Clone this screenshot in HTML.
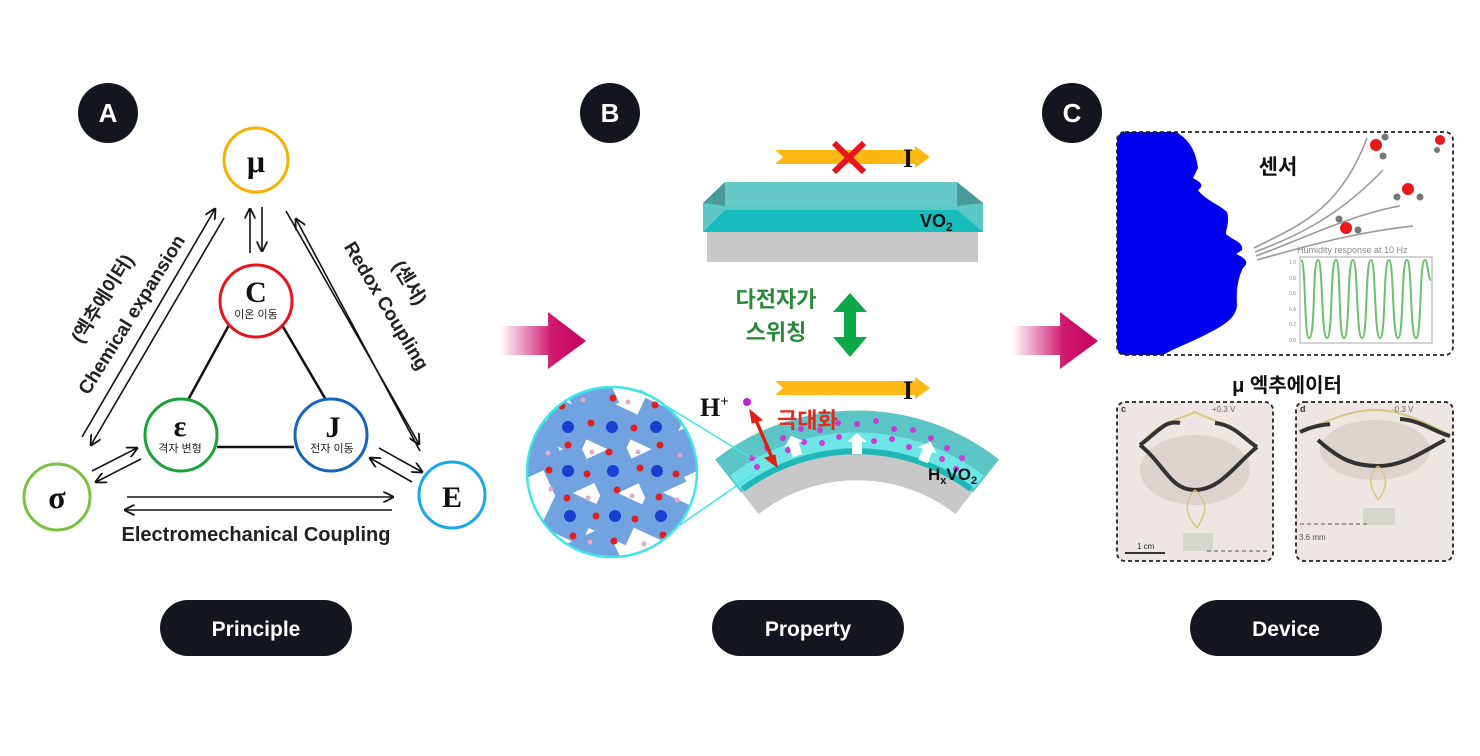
<!DOCTYPE html>
<html><head><meta charset="utf-8"><style>
html,body{margin:0;padding:0;background:#fff;width:1480px;height:756px;overflow:hidden}
svg{display:block}
text{font-family:"Liberation Sans","Noto Sans CJK KR",sans-serif}
.serif{font-family:"Liberation Serif","Noto Serif CJK SC",serif;font-weight:bold}
</style></head><body>
<svg width="1480" height="756" viewBox="0 0 1480 756" xmlns="http://www.w3.org/2000/svg">
<defs>
<linearGradient id="mg" x1="0" x2="1" y1="0" y2="0">
<stop offset="0" stop-color="#c8005e" stop-opacity="0"/><stop offset="0.6" stop-color="#c8005e" stop-opacity="0.9"/><stop offset="1" stop-color="#c8005e"/></linearGradient>
<marker id="ah" viewBox="0 0 10 10" refX="9" refY="5" markerWidth="7" markerHeight="7" orient="auto-start-reverse"><path d="M0,0 L10,5 L0,10" fill="none" stroke="#111" stroke-width="1.6"/></marker>
<clipPath id="cc"><circle cx="612" cy="472" r="85"/></clipPath>
<clipPath id="ph1"><rect x="1117" y="402" width="156" height="159" rx="8"/></clipPath>
<clipPath id="ph2"><rect x="1296" y="402" width="157" height="159" rx="8"/></clipPath>
<clipPath id="sb"><rect x="1117" y="132" width="336" height="223" rx="8"/></clipPath>
<path id="wa" d="M-5,8 V-4 H-10 L0,-13 L10,-4 H5 V8 Z" fill="#fff"/>
</defs>

<!-- badges -->
<circle cx="108" cy="113" r="30" fill="#14161f"/><text x="108" y="122" font-size="26" font-weight="bold" fill="#fff" text-anchor="middle">A</text>
<circle cx="610" cy="113" r="30" fill="#14161f"/><text x="610" y="122" font-size="26" font-weight="bold" fill="#fff" text-anchor="middle">B</text>
<circle cx="1072" cy="113" r="30" fill="#14161f"/><text x="1072" y="122" font-size="26" font-weight="bold" fill="#fff" text-anchor="middle">C</text>

<!-- pills -->
<rect x="160" y="600" width="192" height="56" rx="28" fill="#14161f"/><text x="256" y="636" font-size="21" font-weight="bold" fill="#fff" text-anchor="middle">Principle</text>
<rect x="712" y="600" width="192" height="56" rx="28" fill="#14161f"/><text x="808" y="636" font-size="21" font-weight="bold" fill="#fff" text-anchor="middle">Property</text>
<rect x="1190" y="600" width="192" height="56" rx="28" fill="#14161f"/><text x="1286" y="636" font-size="21" font-weight="bold" fill="#fff" text-anchor="middle">Device</text>

<!-- magenta arrows -->
<path d="M500,326 H548 V312 L586,341 L548,369 V355 H500 Z" fill="url(#mg)"/>
<path d="M1012,326 H1060 V312 L1098,341 L1060,369 V355 H1012 Z" fill="url(#mg)"/>

<!-- Panel A -->
<g stroke="#111" stroke-width="2.5">
<line x1="229" y1="325" x2="188" y2="400"/><line x1="282" y1="325" x2="326" y2="400"/><line x1="217" y1="447" x2="294" y2="447"/>
</g>
<g stroke="#111" stroke-width="1.6" fill="none" marker-end="url(#ah)">
<line x1="250" y1="253" x2="250" y2="209"/><line x1="262" y1="207" x2="262" y2="251"/>
<line x1="82" y1="437" x2="215" y2="209"/><line x1="224" y1="218" x2="91" y2="445"/>
<line x1="286" y1="211" x2="419" y2="444"/><line x1="420" y1="451" x2="296" y2="219"/>
<line x1="92" y1="471" x2="137" y2="448"/><line x1="141" y1="459" x2="96" y2="482"/>
<line x1="379" y1="448" x2="422" y2="472"/><line x1="412" y1="482" x2="370" y2="458"/>
<line x1="127" y1="497" x2="393" y2="497"/><line x1="392" y1="510" x2="125" y2="510"/>
</g>
<circle cx="256" cy="160" r="32" fill="#fff" stroke="#f5b000" stroke-width="3"/>
<text x="256" y="172" class="serif" font-size="32" text-anchor="middle" fill="#111">μ</text>
<circle cx="256" cy="301" r="36" fill="#fff" stroke="#e8141c" stroke-width="3"/>
<text x="256" y="302" class="serif" font-size="30" text-anchor="middle" fill="#111">C</text>
<text x="256" y="318" font-size="11" text-anchor="middle" fill="#222">이온 이동</text>
<circle cx="181" cy="435" r="36" fill="#fff" stroke="#1aa33a" stroke-width="3"/>
<text x="180" y="436" class="serif" font-size="30" text-anchor="middle" fill="#111">ε</text>
<text x="180" y="452" font-size="11" text-anchor="middle" fill="#222">격자 변형</text>
<circle cx="331" cy="435" r="36" fill="#fff" stroke="#1565c0" stroke-width="3"/>
<text x="333" y="437" class="serif" font-size="30" text-anchor="middle" fill="#111">J</text>
<text x="332" y="452" font-size="11" text-anchor="middle" fill="#222">전자 이동</text>
<circle cx="57" cy="497" r="33" fill="#fff" stroke="#7dc142" stroke-width="3"/>
<text x="57" y="508" class="serif" font-size="32" text-anchor="middle" fill="#111">σ</text>
<circle cx="452" cy="495" r="33" fill="#fff" stroke="#1aa8e8" stroke-width="3"/>
<text x="452" y="507" class="serif" font-size="30" text-anchor="middle" fill="#111">E</text>
<text transform="translate(108,302) rotate(-58)" font-size="19" font-weight="bold" fill="#222" text-anchor="middle">(엑추에이터)</text>
<text transform="translate(137,318) rotate(-58)" font-size="19" font-weight="bold" fill="#222" text-anchor="middle">Chemical expansion</text>
<text transform="translate(381,309) rotate(59)" font-size="19" font-weight="bold" fill="#222" text-anchor="middle">Redox Coupling</text>
<text transform="translate(404,286) rotate(59)" font-size="19" font-weight="bold" fill="#222" text-anchor="middle">(센서)</text>
<text x="256" y="541" font-size="20" font-weight="bold" text-anchor="middle" fill="#222">Electromechanical Coupling</text>

<!-- Panel B top -->
<path d="M775,150 H915 V146 L930,157 L915,168 V164 H775 L783,157 Z" fill="#fdb813"/>
<text x="903" y="167" class="serif" font-size="26" fill="#111">I</text>
<g stroke="#e8141c" stroke-width="6"><line x1="834" y1="143" x2="864" y2="172"/><line x1="864" y1="143" x2="834" y2="172"/></g>
<rect x="707" y="232" width="271" height="30" fill="#c8c8c8"/>
<polygon points="703,203 725,182 957,182 983,203 983,232 703,232" fill="#5fc6c6"/>
<polygon points="703,232 725,210 957,210 983,232" fill="#17bcbc"/>
<rect x="725" y="182" width="232" height="24" fill="#66c9c8"/>
<polygon points="703,203 725,182 725,206" fill="#4a9a9a"/>
<polygon points="957,182 983,203 957,206" fill="#4a9a9a"/>
<text x="920" y="227" font-size="18" font-weight="bold" fill="#111">VO<tspan font-size="12" dy="4">2</tspan></text>

<text x="776" y="307" font-size="22" font-weight="bold" fill="#2a8a3a" text-anchor="middle">다전자가</text>
<text x="776" y="340" font-size="22" font-weight="bold" fill="#2a8a3a" text-anchor="middle">스위칭</text>
<path d="M850,293 L867,312 H856 V337 H867 L850,357 L833,337 H844 V312 H833 Z" fill="#0aaa48"/>

<!-- bottom arrow -->
<path d="M775,381 H915 V377 L930,388 L915,399 V395 H775 L783,388 Z" fill="#fdb813"/>
<text x="903" y="399" class="serif" font-size="26" fill="#111">I</text>

<!-- curved slab: center (857,640) -->
<path d="M750,503 A174,174 0 0 1 964,503" fill="none" stroke="#c8c8c8" stroke-width="28"/>
<path d="M728,476 A209,209 0 0 1 986,476" fill="none" stroke="#5cc6c6" stroke-width="42"/>
<path d="M735,482 A200,200 0 0 1 979,482" fill="none" stroke="#6fe6e6" stroke-width="16"/>
<path d="M743,489 A191,191 0 0 1 971,489" fill="none" stroke="#1fb8b8" stroke-width="6"/>
<g fill="#c83cd8">
<circle cx="752" cy="458" r="3"/><circle cx="757" cy="467" r="3"/><circle cx="767" cy="448" r="3"/><circle cx="772" cy="459" r="3"/><circle cx="783" cy="438" r="3"/><circle cx="788" cy="450" r="3"/><circle cx="801" cy="429" r="3"/><circle cx="804" cy="442" r="3"/><circle cx="820" cy="430" r="3"/><circle cx="822" cy="443" r="3"/><circle cx="838" cy="423" r="3"/><circle cx="839" cy="437" r="3"/><circle cx="857" cy="424" r="3"/><circle cx="876" cy="421" r="3"/><circle cx="874" cy="441" r="3"/><circle cx="894" cy="429" r="3"/><circle cx="892" cy="439" r="3"/><circle cx="913" cy="430" r="3"/><circle cx="909" cy="447" r="3"/><circle cx="931" cy="438" r="3"/><circle cx="926" cy="449" r="3"/><circle cx="947" cy="448" r="3"/><circle cx="942" cy="459" r="3"/><circle cx="962" cy="458" r="3"/><circle cx="956" cy="469" r="3"/>
</g>
<use href="#wa" transform="translate(795,448) rotate(-18)"/>
<use href="#wa" transform="translate(857,446)"/>
<use href="#wa" transform="translate(926,454) rotate(20)"/>
<text x="928" y="480" font-size="17" font-weight="bold" fill="#111">H<tspan font-size="11" dy="4">x</tspan><tspan dy="-4">VO</tspan><tspan font-size="11" dy="4">2</tspan></text>
<text x="700" y="416" class="serif" font-size="26" fill="#111">H<tspan font-size="15" dy="-10">+</tspan></text>
<circle cx="747" cy="402" r="4" fill="#c020d0"/>
<g stroke="#e02010" stroke-width="3.5" fill="#e02010"><line x1="755" y1="418" x2="773" y2="460"/><path d="M750,410 L762,420 L752,423 Z" stroke-width="1"/><path d="M777,467 L765,458 L775,455 Z" stroke-width="1"/></g>
<text x="777" y="428" font-size="22" font-weight="bold" fill="#e8281c">극대화</text>
<circle cx="755" cy="465" r="9" fill="none" stroke="#7fe9ea" stroke-dasharray="2 2"/>
<line x1="640" y1="390" x2="748" y2="456" stroke="#3fe6e6" stroke-width="1.5"/>
<line x1="680" y1="525" x2="752" y2="475" stroke="#3fe6e6" stroke-width="1.5"/>

<!-- lattice circle -->
<g clip-path="url(#cc)">
<rect x="527" y="387" width="170" height="170" fill="#fff"/>
<g fill="#6a9fe0" opacity="0.95">
<g transform="translate(568,427) rotate(25)"><rect x="-22" y="-22" width="44" height="44"/></g>
<g transform="translate(612,427) rotate(25)"><rect x="-22" y="-22" width="44" height="44"/></g>
<g transform="translate(656,427) rotate(25)"><rect x="-22" y="-22" width="44" height="44"/></g>
<g transform="translate(568,471) rotate(-25)"><rect x="-22" y="-22" width="44" height="44"/></g>
<g transform="translate(613,471) rotate(-25)"><rect x="-22" y="-22" width="44" height="44"/></g>
<g transform="translate(657,471) rotate(-25)"><rect x="-22" y="-22" width="44" height="44"/></g>
<g transform="translate(570,516) rotate(25)"><rect x="-22" y="-22" width="44" height="44"/></g>
<g transform="translate(615,516) rotate(25)"><rect x="-22" y="-22" width="44" height="44"/></g>
<g transform="translate(661,516) rotate(25)"><rect x="-22" y="-22" width="44" height="44"/></g>
<g transform="translate(590,392) rotate(-25)"><rect x="-22" y="-22" width="44" height="44"/></g>
<g transform="translate(535,450) rotate(-25)"><rect x="-22" y="-22" width="44" height="44"/></g>
<g transform="translate(690,450) rotate(-25)"><rect x="-22" y="-22" width="44" height="44"/></g>
<g transform="translate(595,555) rotate(-25)"><rect x="-22" y="-22" width="44" height="44"/></g>
</g>
<g fill="#1a3ed0"><circle cx="568" cy="427" r="6"/><circle cx="612" cy="427" r="6"/><circle cx="656" cy="427" r="6"/><circle cx="568" cy="471" r="6"/><circle cx="613" cy="471" r="6"/><circle cx="657" cy="471" r="6"/><circle cx="570" cy="516" r="6"/><circle cx="615" cy="516" r="6"/><circle cx="661" cy="516" r="6"/></g>
<g fill="#e02020"><circle cx="562" cy="406" r="3.5"/><circle cx="613" cy="398" r="3.5"/><circle cx="655" cy="405" r="3.5"/><circle cx="591" cy="423" r="3.5"/><circle cx="634" cy="428" r="3.5"/><circle cx="568" cy="445" r="3.5"/><circle cx="609" cy="452" r="3.5"/><circle cx="660" cy="445" r="3.5"/><circle cx="549" cy="470" r="3.5"/><circle cx="587" cy="474" r="3.5"/><circle cx="640" cy="468" r="3.5"/><circle cx="676" cy="474" r="3.5"/><circle cx="567" cy="498" r="3.5"/><circle cx="617" cy="490" r="3.5"/><circle cx="659" cy="497" r="3.5"/><circle cx="596" cy="516" r="3.5"/><circle cx="635" cy="519" r="3.5"/><circle cx="573" cy="536" r="3.5"/><circle cx="614" cy="541" r="3.5"/><circle cx="663" cy="535" r="3.5"/></g>
<g fill="#e8a8c8"><circle cx="583" cy="400" r="2.5"/><circle cx="628" cy="402" r="2.5"/><circle cx="548" cy="453" r="2.5"/><circle cx="592" cy="452" r="2.5"/><circle cx="638" cy="452" r="2.5"/><circle cx="680" cy="455" r="2.5"/><circle cx="588" cy="498" r="2.5"/><circle cx="632" cy="496" r="2.5"/><circle cx="677" cy="500" r="2.5"/><circle cx="551" cy="489" r="2.5"/><circle cx="590" cy="542" r="2.5"/><circle cx="644" cy="544" r="2.5"/></g>
</g>
<circle cx="612" cy="472" r="85" fill="none" stroke="#3fe6e6" stroke-width="2.5"/>

<!-- Panel C sensor -->
<g clip-path="url(#sb)">
<path d="M1117,132 H1176 C1190,140 1196,152 1198,168 L1193,178 C1200,182 1205,185 1198,190 C1205,200 1220,205 1227,212 C1230,222 1226,228 1226,234 C1232,240 1244,242 1242,250 L1236,254 C1245,258 1250,262 1243,268 C1238,278 1236,290 1237,305 C1236,318 1225,325 1205,335 C1185,345 1170,350 1162,356 H1117 Z" fill="#0000f0"/>
</g>
<rect x="1117" y="132" width="336" height="223" rx="8" fill="none" stroke="#222" stroke-width="1.8" stroke-dasharray="4 3"/>
<text x="1278" y="174" font-size="21" font-weight="bold" fill="#111" text-anchor="middle">센서</text>
<g stroke="#999" stroke-width="1.6" fill="none">
<path d="M1254,248 C1300,225 1340,210 1367,138"/><path d="M1255,252 C1300,235 1340,215 1383,170"/><path d="M1256,256 C1300,240 1350,215 1400,206"/><path d="M1257,260 C1300,248 1350,233 1413,226"/>
</g>
<g><circle cx="1376" cy="145" r="6" fill="#e81818"/><circle cx="1385" cy="137" r="3.5" fill="#777"/><circle cx="1383" cy="156" r="3.5" fill="#777"/>
<circle cx="1440" cy="140" r="5" fill="#e81818"/><circle cx="1437" cy="150" r="3" fill="#777"/>
<circle cx="1408" cy="189" r="6" fill="#e81818"/><circle cx="1397" cy="197" r="3.5" fill="#777"/><circle cx="1420" cy="197" r="3.5" fill="#777"/>
<circle cx="1346" cy="228" r="6" fill="#e81818"/><circle cx="1339" cy="219" r="3.5" fill="#777"/><circle cx="1358" cy="230" r="3.5" fill="#777"/></g>
<text x="1297" y="253" font-size="9" fill="#888">Humidity response at 10 Hz</text>
<rect x="1300" y="257" width="132" height="86" fill="#fff" stroke="#aaa" stroke-width="1"/>
<path d="M1301,260 C1306,260 1304,338 1309,338 C1316,338 1312,260 1318,260 C1323,260 1321,338 1327,338 C1333,338 1330,260 1336,260 C1341,260 1338,338 1344,338 C1350,338 1347,260 1353,260 C1358,260 1356,338 1362,338 C1368,338 1365,260 1371,260 C1376,260 1374,338 1380,338 C1386,338 1383,260 1389,260 C1394,260 1392,338 1398,338 C1404,338 1401,260 1407,260 C1412,260 1410,338 1416,338 C1422,338 1419,260 1425,260 C1428,260 1428,280 1431,280" fill="none" stroke="#6cc070" stroke-width="2"/>
<g font-size="5" fill="#888"><text x="1289" y="264">1.0</text><text x="1289" y="280">0.8</text><text x="1289" y="295">0.6</text><text x="1289" y="311">0.4</text><text x="1289" y="326">0.2</text><text x="1289" y="342">0.0</text></g>

<text x="1287" y="392" font-size="20" font-weight="bold" fill="#111" text-anchor="middle">μ 엑추에이터</text>

<!-- photos -->
<g clip-path="url(#ph1)"><rect x="1117" y="402" width="156" height="159" fill="#eee6e2"/>
<ellipse cx="1195" cy="470" rx="55" ry="35" fill="#ddd4cf"/>
<path d="M1140,445 C1160,420 1180,420 1195,412 C1210,420 1235,425 1255,445" fill="none" stroke="#d8c880" stroke-width="2"/>
<path d="M1140,445 C1160,430 1165,420 1180,423 M1215,423 C1235,425 1245,440 1257,447" fill="none" stroke="#333" stroke-width="4"/>
<path d="M1140,445 C1165,465 1170,490 1195,490 C1220,490 1235,465 1257,447" fill="none" stroke="#333" stroke-width="4"/>
<path d="M1195,490 C1180,505 1190,520 1197,528 C1205,515 1210,505 1195,490" fill="none" stroke="#d8c880" stroke-width="1.5"/>
<rect x="1183" y="533" width="30" height="18" fill="#d6d8cf"/>
<line x1="1125" y1="553" x2="1165" y2="553" stroke="#333" stroke-width="2"/>
<line x1="1207" y1="551" x2="1270" y2="551" stroke="#555" stroke-dasharray="4 3"/>
<text x="1137" y="549" font-size="8" fill="#333">1 cm</text>
<text x="1121" y="412" font-size="9" font-weight="bold" fill="#333">c</text>
<text x="1212" y="412" font-size="8" fill="#666">+0.3 V</text></g>
<rect x="1117" y="402" width="156" height="159" rx="8" fill="none" stroke="#222" stroke-width="1.8" stroke-dasharray="4 3"/>
<g clip-path="url(#ph2)"><rect x="1296" y="402" width="157" height="159" fill="#eee6e2"/>
<ellipse cx="1375" cy="450" rx="55" ry="30" fill="#ddd4cf"/>
<path d="M1300,432 C1330,420 1350,410 1375,410 C1400,410 1420,420 1450,435" fill="none" stroke="#d8c880" stroke-width="2"/>
<path d="M1300,432 C1315,425 1325,425 1330,424 M1400,419 C1420,420 1435,432 1450,436" fill="none" stroke="#333" stroke-width="4"/>
<path d="M1318,440 C1340,460 1355,466 1378,466 C1405,466 1425,450 1445,440" fill="none" stroke="#333" stroke-width="4"/>
<path d="M1378,466 C1365,478 1372,490 1378,500 C1386,490 1390,478 1378,466" fill="none" stroke="#d8c880" stroke-width="1.5"/>
<rect x="1363" y="508" width="32" height="17" fill="#d6d8cf"/>
<line x1="1300" y1="524" x2="1370" y2="524" stroke="#555" stroke-dasharray="4 3"/>
<text x="1299" y="540" font-size="8" fill="#555">3.6 mm</text>
<text x="1300" y="412" font-size="9" font-weight="bold" fill="#333">d</text>
<text x="1392" y="412" font-size="8" fill="#666">-0.3 V</text></g>
<rect x="1296" y="402" width="157" height="159" rx="8" fill="none" stroke="#222" stroke-width="1.8" stroke-dasharray="4 3"/>
</svg>
</body></html>
